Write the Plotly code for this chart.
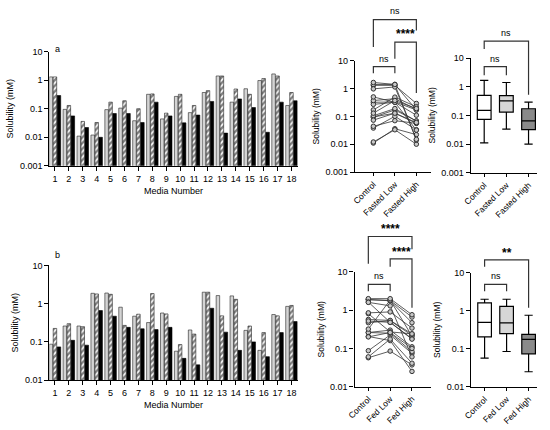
import plotly.graph_objects as go

# ---------------- data ----------------
media = list(range(1, 19))
fasted_groups = ["Control", "Fasted Low", "Fasted High"]
fed_groups = ["Control", "Fed Low", "Fed High"]

fasted_control = [1.3, 0.095, 0.011, 0.012, 0.093, 0.105, 0.038, 0.32, 0.044,
                  0.27, 0.073, 0.37, 1.4, 0.17, 0.5, 0.97, 1.65, 0.13]
fasted_low = [1.3, 0.13, 0.036, 0.033, 0.17, 0.19, 0.10, 0.33, 0.07,
              0.32, 0.13, 0.43, 1.4, 0.49, 0.32, 1.14, 1.4, 0.37]
fasted_high = [0.29, 0.056, 0.022, 0.010, 0.068, 0.068, 0.033, 0.17, 0.056,
               0.032, 0.06, 0.18, 0.014, 0.22, 0.11, 0.015, 0.17, 0.19]

fed_control = [0.087, 0.26, 0.26, 1.87, 1.9, 0.81, 0.47, 0.32, 0.57,
               0.057, 0.205, 2.0, 1.63, 1.6, 0.2, 0.06, 0.52, 0.85]
fed_low = [0.225, 0.30, 0.25, 1.8, 1.76, 0.27, 0.53, 1.84, 0.54,
           0.085, 0.16, 2.0, 0.48, 1.3, 0.26, 0.175, 0.48, 0.9]
fed_high = [0.074, 0.11, 0.082, 0.66, 0.47, 0.24, 0.22, 0.21, 0.24,
            0.037, 0.025, 0.76, 0.18, 0.06, 0.1, 0.041, 0.175, 0.34]

ytick_vals = [0.001, 0.01, 0.1, 1, 10]
ytick_text = ["0.001", "0.01", "0.1", "1", "10"]

# ---------------- helpers ----------------
W, H = 550, 430
def px(p):
    return p / W
def py(p):
    return 1 - p / H

FONT = "Liberation Sans, Arial, sans-serif"
fig = go.Figure()

def add_bars(c, l, h, xa, ya):
    fig.add_trace(go.Bar(x=media, y=c, xaxis=xa, yaxis=ya, showlegend=False,
                         marker=dict(color="#d4d4d4", line=dict(color="#222", width=0.6))))
    fig.add_trace(go.Bar(x=media, y=l, xaxis=xa, yaxis=ya, showlegend=False,
                         marker=dict(color="white", line=dict(color="#222", width=0.6),
                                     pattern=dict(shape="/", fgcolor="black", bgcolor="white",
                                                  size=4, solidity=0.6))))
    fig.add_trace(go.Bar(x=media, y=h, xaxis=xa, yaxis=ya, showlegend=False,
                         marker=dict(color="black", line=dict(color="black", width=0.6))))

add_bars(fasted_control, fasted_low, fasted_high, "x", "y")
add_bars(fed_control, fed_low, fed_high, "x2", "y2")

def add_paired(c, l, h, xa, ya):
    for i in range(len(media)):
        fig.add_trace(go.Scatter(x=[0, 1, 2], y=[c[i], l[i], h[i]], xaxis=xa, yaxis=ya,
                                 mode="lines+markers", showlegend=False, cliponaxis=False,
                                 line=dict(color="#333", width=0.8),
                                 marker=dict(size=4.5, color="#c8c8c8",
                                             line=dict(color="#333", width=1))))

add_paired(fasted_control, fasted_low, fasted_high, "x3", "y3")
add_paired(fed_control, fed_low, fed_high, "x5", "y5")

def add_boxes(c, l, h, xa, ya):
    fills = ["white", "#d6d6d6", "#8a8a8a"]
    for k, vals in enumerate([c, l, h]):
        fig.add_trace(go.Box(x=[k] * len(vals), y=vals, xaxis=xa, yaxis=ya,
                             boxpoints=False, showlegend=False, width=0.62,
                             whiskerwidth=0.6, fillcolor=fills[k],
                             line=dict(color="black", width=1.2)))

add_boxes(fasted_control, fasted_low, fasted_high, "x4", "y4")
add_boxes(fed_control, fed_low, fed_high, "x6", "y6")

# ---------------- axes ----------------
axis_common = dict(showline=True, linecolor="black", linewidth=1.3, ticks="outside",
                   ticklen=4, tickwidth=1.2, tickcolor="black", showgrid=False,
                   zeroline=False, tickfont=dict(family=FONT, size=9, color="black"))

def yaxis(domain, rng, anchor, title_size=8.5):
    return dict(axis_common, type="log", domain=domain, range=rng, anchor=anchor,
                tickvals=ytick_vals, ticktext=ytick_text,
                title=dict(text="Solubility (mM)", font=dict(family=FONT, size=title_size, color="black"),
                           standoff=4))

def catx(domain, rng, anchor, labels):
    return dict(axis_common, domain=domain, range=rng, anchor=anchor,
                tickvals=[0, 1, 2], ticktext=labels, tickangle=-45, ticklen=3,
                tickfont=dict(family=FONT, size=8.5, color="black"))

bar_xdom = [px(42), px(294)]
fig.update_layout(
    xaxis=dict(axis_common, domain=bar_xdom, range=[0.6, 18.45], anchor="y",
               tickvals=media, ticktext=[str(m) for m in media],
               title=dict(text="Media Number", font=dict(family=FONT, size=9, color="black"), standoff=4)),
    yaxis=yaxis([py(164.7), py(47.7)], [-3, 1], "x", 9),
    xaxis2=dict(axis_common, domain=bar_xdom, range=[0.6, 18.45], anchor="y2",
                tickvals=media, ticktext=[str(m) for m in media],
                title=dict(text="Media Number", font=dict(family=FONT, size=9, color="black"), standoff=4)),
    yaxis2=yaxis([py(384), py(266.7)], [-2, 1], "x2", 9),
    xaxis3=catx([px(352), px(429)], [-0.86, 2.67], "y3", fasted_groups),
    yaxis3=yaxis([py(171), py(57)], [-3, 1], "x3"),
    xaxis4=catx([px(469.5), px(537)], [-0.61, 2.39], "y4", fasted_groups),
    yaxis4=yaxis([py(171.7), py(54.3)], [-3, 1], "x4"),
    xaxis5=catx([px(351.7), px(429)], [-0.63, 2.86], "y5", fed_groups),
    yaxis5=yaxis([py(390.7), py(273.3)], [-2, 1], "x5"),
    xaxis6=catx([px(470), px(537)], [-0.61, 2.39], "y6", fed_groups),
    yaxis6=yaxis([py(391), py(274)], [-2, 1], "x6"),
    barmode="group", bargap=0.14, bargroupgap=0.12,
    width=W, height=H, margin=dict(l=0, r=0, t=0, b=0),
    paper_bgcolor="white", plot_bgcolor="white",
    font=dict(family=FONT, color="black"),
)

# ---------------- significance brackets ----------------
shapes = []
annotations = []

def bracket(xa, x0, x1, ybar, yleft, yright, label, ytext, bold=False):
    shapes.append(dict(type="path", xref=xa, yref="paper",
                       path=f"M {x0},{py(yleft)} L {x0},{py(ybar)} L {x1},{py(ybar)} L {x1},{py(yright)}",
                       line=dict(color="#333", width=1.2)))
    annotations.append(dict(xref=xa, yref="paper", x=(x0 + x1) / 2, y=py(ytext),
                            text=label, showarrow=False, yanchor="middle",
                            font=dict(family=FONT, size=12 if bold else 9, color="black")))

# fasted paired
bracket("x3", 0, 2, 15, 43, 26, "ns", 6)
bracket("x3", 1, 2, 38, 55, 90, "<b>****</b>", 30, True)
bracket("x3", 0, 1, 63, 70, 70, "ns", 55)
# fasted box
bracket("x4", 0, 2, 37, 45, 92, "ns", 29)
bracket("x4", 0, 1, 63, 72, 72, "ns", 55)
# fed paired
bracket("x5", 0, 2, 237, 265, 250, "<b>****</b>", 229, True)
bracket("x5", 1, 2, 260, 268, 310, "<b>****</b>", 253, True)
bracket("x5", 0, 1, 286, 293, 293, "ns", 277)
# fed box
bracket("x6", 0, 2, 261, 268, 310, "<b>**</b>", 254, True)
bracket("x6", 0, 1, 286, 293, 293, "ns", 277)

annotations.append(dict(xref="paper", yref="paper", x=px(46), y=py(38), text="a",
                        showarrow=False, font=dict(family=FONT, size=9, color="black")))
annotations.append(dict(xref="paper", yref="paper", x=px(46), y=py(256), text="b",
                        showarrow=False, font=dict(family=FONT, size=9, color="black")))

fig.update_layout(shapes=shapes, annotations=annotations)
fig.write_html("out.html", config={"displayModeBar": False},
               post_script="document.body.style.margin='0';document.body.style.overflow='hidden';")
